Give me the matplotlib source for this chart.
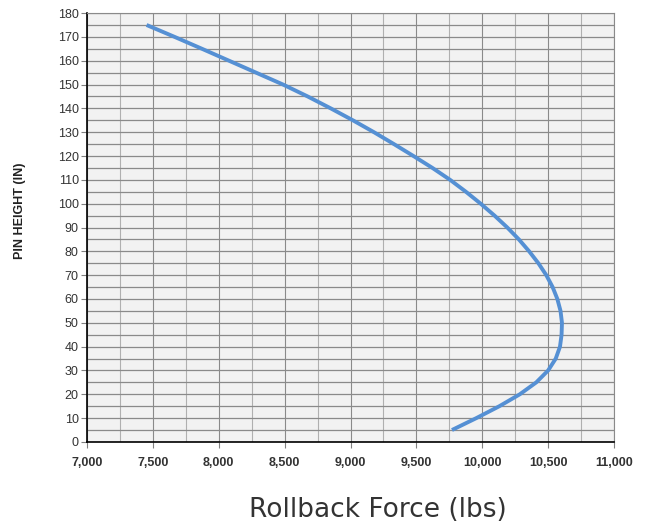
import matplotlib
matplotlib.use("Agg")
import matplotlib.pyplot as plt
from matplotlib.ticker import MultipleLocator, FuncFormatter

# pin height (in) and rollback force (lbs)
pin_height = [5, 10, 15, 20, 25, 30, 35, 40, 45, 50, 55, 60, 65, 70, 75, 80, 85, 90,
              95, 100, 105, 110, 115, 120, 125, 130, 135, 140, 145, 150, 155, 160,
              165, 170, 175]
rollback_force = [9770, 9955, 10130, 10285, 10410, 10500, 10558, 10590, 10602, 10605,
                  10594, 10570, 10534, 10486, 10426, 10356, 10278, 10190, 10093, 9988,
                  9876, 9756, 9622, 9478, 9330, 9178, 9018, 8850, 8675, 8488, 8283,
                  8078, 7873, 7665, 7452]

fig = plt.figure(figsize=(6.47, 5.23), dpi=100)
ax = fig.add_axes([0.1345, 0.155, 0.8145, 0.82])
ax.set_facecolor('#f2f2f2')

ax.plot(rollback_force, pin_height, color='#5590d4', lw=2.8, solid_capstyle='butt',
        solid_joinstyle='round', zorder=3)

ax.set_xlim(7000, 11000)
ax.set_ylim(0, 180)
ax.xaxis.set_major_locator(MultipleLocator(500))
ax.xaxis.set_minor_locator(MultipleLocator(250))
ax.yaxis.set_major_locator(MultipleLocator(10))
ax.yaxis.set_minor_locator(MultipleLocator(5))
ax.xaxis.set_major_formatter(FuncFormatter(lambda v, p: f"{int(v):,}"))

ax.grid(which='major', axis='y', color='#8a8a8a', lw=0.9)
ax.grid(which='minor', axis='y', color='#8a8a8a', lw=0.9)
ax.grid(which='major', axis='x', color='#8a8a8a', lw=0.8)
ax.grid(which='minor', axis='x', color='#b0b0b0', lw=0.8)
ax.set_axisbelow(True)

for s in ['top', 'right']:
    ax.spines[s].set_color('#8a8a8a')
    ax.spines[s].set_linewidth(0.8)
for s in ['left', 'bottom']:
    ax.spines[s].set_color('black')
    ax.spines[s].set_linewidth(1.2)

ax.tick_params(axis='y', which='major', length=4, color='#808080', labelsize=9,
               labelcolor='#333333', pad=2)
ax.tick_params(axis='x', which='major', length=4, color='#808080', labelsize=9,
               labelcolor='#333333', pad=7)
ax.tick_params(which='minor', length=0)
for lab in ax.get_yticklabels():
    lab.set_fontfamily('Liberation Sans')
for lab in ax.get_xticklabels():
    lab.set_fontfamily('Liberation Sans')
    lab.set_fontweight('bold')

fig.text(0.031, 0.597, 'PIN HEIGHT (IN)', rotation=90, ha='center', va='center',
         fontsize=9, fontweight='bold', family='Liberation Sans', color='#222222')
fig.text(0.584, 0.012, 'Rollback Force (lbs)', ha='center', va='baseline',
         fontsize=19, color='#333333', family='DejaVu Sans')

fig.savefig('out.png', dpi=100)
